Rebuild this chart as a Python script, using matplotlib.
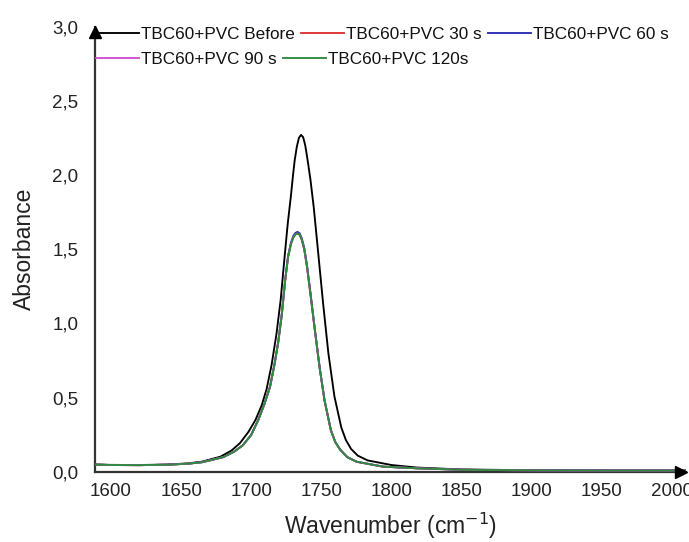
import matplotlib
matplotlib.use("Agg")
import matplotlib.pyplot as plt
from matplotlib.lines import Line2D
from matplotlib.ticker import FuncFormatter
from matplotlib.transforms import offset_copy

plt.rcParams['font.family'] = ['Liberation Sans', 'DejaVu Sans']

# ---- data ----
wn_before = [1588, 1600, 1620, 1640, 1655, 1665, 1678, 1686, 1692, 1698, 1703, 1707.5,
             1711, 1714.5, 1718, 1721, 1723.5, 1726, 1728.3, 1729.8, 1731, 1732.5,
             1734, 1735.5, 1737, 1738.5, 1740.2, 1742.2, 1744.6, 1747.8, 1751.3,
             1755, 1759.3, 1764.2, 1767.5, 1771.2, 1776, 1783, 1800, 1818, 1850,
             1900, 1950, 2010]
abs_before = [0.050, 0.048, 0.047, 0.050, 0.058, 0.070, 0.103, 0.145, 0.195, 0.27, 0.35, 0.45,
              0.56, 0.72, 0.93, 1.16, 1.42, 1.67, 1.86, 2.00, 2.10, 2.19,
              2.25, 2.27, 2.255, 2.20, 2.10, 1.97, 1.78, 1.47, 1.13,
              0.80, 0.51, 0.30, 0.215, 0.155, 0.11, 0.078, 0.047, 0.030, 0.017,
              0.012, 0.011, 0.010]

wn_after = [1588, 1600, 1620, 1640, 1655, 1665, 1680, 1688, 1694, 1700, 1705, 1709.5,
            1713.4, 1716.5, 1719.2, 1721.8, 1724.2, 1726.3, 1728.3, 1730, 1731.5,
            1733, 1734.5, 1736, 1737.8, 1739.8, 1742.2, 1745.3, 1748.8, 1752.3,
            1756.8, 1760, 1763.6, 1768.5, 1775.2, 1794, 1818, 1850, 1900, 1950, 2010]
abs_30s = [0.050, 0.047, 0.046, 0.049, 0.056, 0.066, 0.100, 0.138, 0.180, 0.25, 0.35, 0.46,
           0.574, 0.72, 0.87, 1.06, 1.29, 1.45, 1.535, 1.580, 1.600,
           1.607, 1.598, 1.565, 1.50, 1.38, 1.20, 0.96, 0.70, 0.48,
           0.28, 0.20, 0.148, 0.100, 0.069, 0.036, 0.025, 0.015, 0.011, 0.010, 0.010]
abs_60s = [0.050, 0.047, 0.046, 0.049, 0.056, 0.066, 0.100, 0.138, 0.180, 0.25, 0.35, 0.46,
           0.574, 0.72, 0.875, 1.065, 1.295, 1.457, 1.543, 1.590, 1.610,
           1.617, 1.608, 1.575, 1.51, 1.39, 1.21, 0.965, 0.703, 0.482,
           0.282, 0.201, 0.149, 0.100, 0.069, 0.036, 0.025, 0.015, 0.011, 0.010, 0.010]
abs_90s = [0.050, 0.047, 0.046, 0.049, 0.056, 0.066, 0.100, 0.138, 0.180, 0.25, 0.35, 0.46,
           0.574, 0.72, 0.87, 1.06, 1.29, 1.45, 1.535, 1.580, 1.600,
           1.607, 1.598, 1.565, 1.50, 1.38, 1.20, 0.96, 0.70, 0.48,
           0.28, 0.20, 0.148, 0.100, 0.069, 0.036, 0.025, 0.015, 0.011, 0.010, 0.010]
abs_120s = [0.050, 0.047, 0.046, 0.049, 0.056, 0.066, 0.100, 0.138, 0.180, 0.25, 0.35, 0.46,
            0.574, 0.72, 0.87, 1.06, 1.29, 1.45, 1.535, 1.580, 1.600,
            1.607, 1.598, 1.565, 1.50, 1.38, 1.20, 0.96, 0.70, 0.48,
            0.28, 0.20, 0.148, 0.100, 0.069, 0.036, 0.025, 0.015, 0.011, 0.010, 0.010]

labels = ["TBC60+PVC Before", "TBC60+PVC 30 s", "TBC60+PVC 60 s",
          "TBC60+PVC 90 s", "TBC60+PVC 120s"]
colors = ["#000000", "#e0312f", "#2b2bb0", "#d050d0", "#2e8b3e"]
x_ticks = [1600, 1650, 1700, 1750, 1800, 1850, 1900, 1950, 2000]
y_ticks = [0.0, 0.5, 1.0, 1.5, 2.0, 2.5, 3.0]

W, H = 689, 542
fig = plt.figure(figsize=(W / 100, H / 100), dpi=100)
ax = fig.add_axes([95 / W, (H - 472) / H, (686 - 95) / W, (472 - 26.5) / H])

lw = 1.35
plot_data = {0: (wn_before, abs_before), 1: (wn_after, abs_30s), 2: (wn_after, abs_60s),
             3: (wn_after, abs_90s), 4: (wn_after, abs_120s)}
for i in [0, 1, 3, 2, 4]:
    x, y = plot_data[i]
    ax.plot(x, y, color=colors[i], lw=lw, solid_joinstyle='round',
            solid_capstyle='round', zorder=3 + i)

ax.set_xlim(1588.6, 2010)
ax.set_ylim(0, 3.0)
ax.set_xticks(x_ticks)
ax.set_yticks(y_ticks)
ax.yaxis.set_major_formatter(FuncFormatter(lambda v, p: f"{v:.1f}".replace('.', ',')))
ax.tick_params(length=0, labelsize=13.5, colors='#222222')
ax.tick_params(axis='y', pad=12)
ax.tick_params(axis='x', pad=8)
for s in ['top', 'right']:
    ax.spines[s].set_visible(False)
for s in ['left', 'bottom']:
    ax.spines[s].set_linewidth(1.6)
    ax.spines[s].set_color('#333333')

# arrows at the ends of the axes (tips at the axis ends)
up_tr = offset_copy(ax.transAxes, fig=fig, x=0, y=-4, units='points')
right_tr = offset_copy(ax.transAxes, fig=fig, x=-3.5, y=0, units='points')
ax.plot(1, 0, marker='>', color='k', markersize=8, transform=right_tr,
        clip_on=False, zorder=10)
ax.plot(0, 1, marker='^', color='k', markersize=8.5, transform=up_tr,
        clip_on=False, zorder=10)

ax.set_xlabel("Wavenumber (cm$^{-1}$)", fontsize=16.5, color='#222222', labelpad=8)
ax.set_ylabel("Absorbance", fontsize=16.5, color='#222222', labelpad=12)


def mk(i):
    return Line2D([], [], color=colors[i], lw=lw)


leg_kw = dict(frameon=False, borderpad=0, borderaxespad=0, handlelength=2.5,
              handletextpad=0.15, columnspacing=0.35, fontsize=12.3,
              loc='upper left', labelcolor='#111111')
fig.legend([mk(0), mk(1), mk(2)], labels[:3], ncol=3,
           bbox_to_anchor=(96 / W, 1 - 27 / H), **leg_kw)
fig.legend([mk(3), mk(4)], labels[3:], ncol=2,
           bbox_to_anchor=(96 / W, 1 - 52 / H), **leg_kw)

fig.savefig("out.png", dpi=100)
